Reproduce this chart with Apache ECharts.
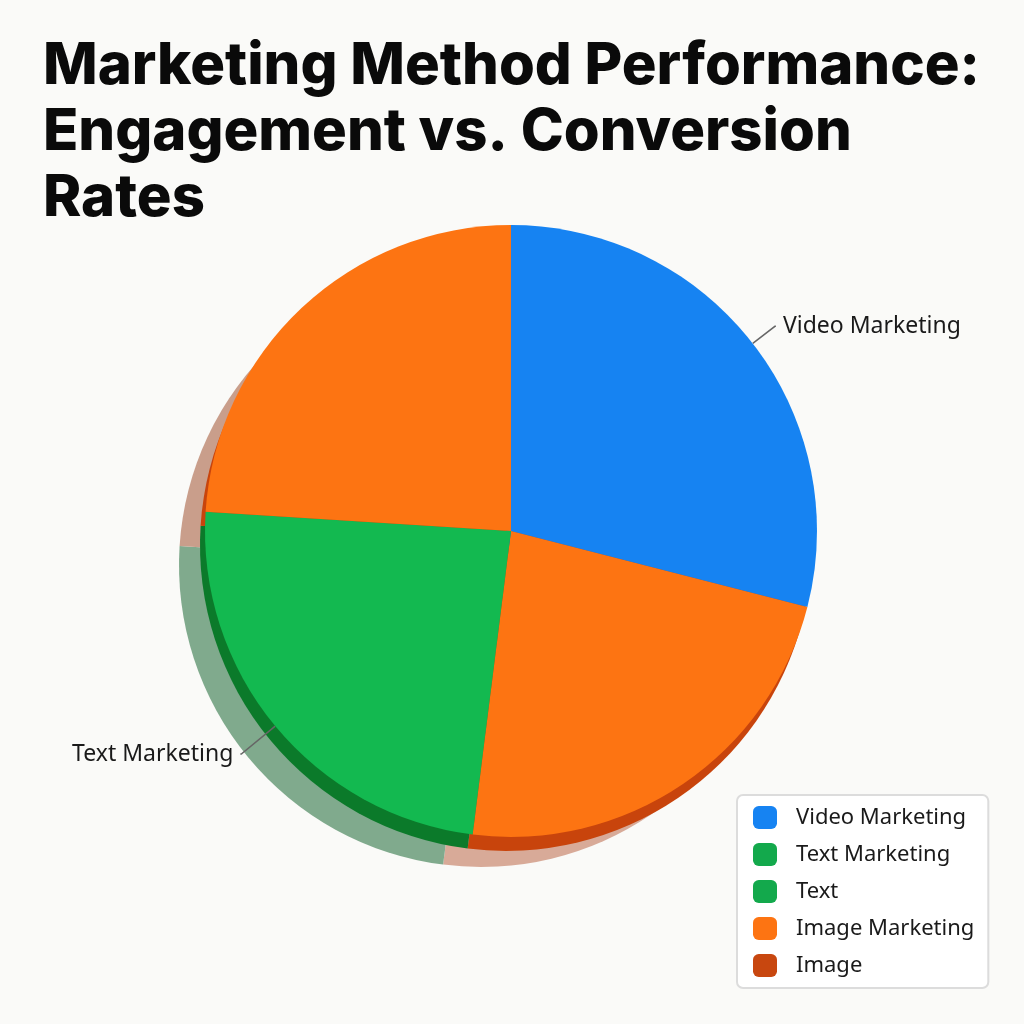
<!DOCTYPE html>
<html>
<head>
<meta charset="utf-8">
<script src="https://cdn.jsdelivr.net/npm/echarts@6/dist/echarts.min.js"></script>
<style>
  html, body { margin: 0; padding: 0; background: #fafaf8; }
  #chart { width: 1024px; height: 1024px; }
</style>
</head>
<body>
<div id="chart"></div>
<script>
// Slices clockwise from 12 o'clock
const categories = ['Video Marketing', 'Image Marketing', 'Text Marketing', 'Image Marketing'];
const values = [29, 23, 24, 24];
const depthNames = ['Video', 'Image', 'Text', 'Image'];
const shadowNames = ['Video shadow', 'Image shadow', 'Text shadow', 'Image shadow 2'];
const legendNames = ['Video Marketing', 'Text Marketing', 'Text', 'Image Marketing', 'Image'];
const labeledIdx = [0, 2];

const topColors = ['#1683f2', '#fd7412', '#13b950', '#fd7412'];
const depthColors = ['#0d5fc0', '#c8440c', '#0b7a2a', '#c8440c'];
const shadowColors = ['#a9b6c8', '#d8aa98', '#80aa8d', '#c99e8b'];
const legendColors = ['#1683f2', '#13a94c', '#13a94c', '#fd7412', '#c8470f'];
const lineLengths = [28, 0, 44, 0];

const chart = echarts.init(document.getElementById('chart'));
const C = [511, 531], R = 306;

chart.setOption({
  backgroundColor: '#fafaf8',
  animation: false,
  title: {
    text: 'Marketing Method Performance:\nEngagement vs. Conversion\nRates',
    left: 38, top: 29,
    textStyle: { fontFamily: 'Inter', fontWeight: 800, fontSize: 58, lineHeight: 66, color: '#0a0a0a' }
  },
  legend: {
    orient: 'vertical',
    left: 737, top: 795,
    padding: [11, 14, 11, 16],
    backgroundColor: '#ffffff',
    borderColor: '#dcdcdc', borderWidth: 2, borderRadius: 6,
    itemWidth: 24, itemHeight: 23, itemGap: 14,
    icon: 'roundRect',
    textStyle: { fontFamily: 'Noto Sans', fontSize: 22, color: '#1a1a1a', padding: [0, 0, 0, 14] },
    data: legendNames.map((n, i) => ({ name: n, itemStyle: { color: legendColors[i] } }))
  },
  series: [
    {
      type: 'pie', name: 'top', z: 5,
      center: C, radius: R, startAngle: 90,
      silent: true,
      label: { fontFamily: 'Noto Sans', fontSize: 23, color: '#1a1a1a', distanceToLabelLine: 7 },
      labelLine: { length: 30, length2: 1, lineStyle: { color: '#666', width: 1.5 } },
      data: categories.map((n, i) => ({
        name: n, value: values[i],
        itemStyle: { color: topColors[i] },
        label: { show: labeledIdx.includes(i) },
        labelLine: { show: labeledIdx.includes(i), length: lineLengths[i], length2: 1 }
      }))
    },
    {
      type: 'pie', name: 'depth', z: 4,
      center: [C[0] - 5, C[1] + 14], radius: R, startAngle: 90,
      silent: true, label: { show: false }, labelLine: { show: false },
      data: depthNames.map((n, i) => ({ name: n, value: values[i], itemStyle: { color: depthColors[i] } }))
    },
    {
      type: 'pie', name: 'shadow', z: 3,
      center: [C[0] - 30, C[1] + 34], radius: R - 4, startAngle: 90,
      silent: true, label: { show: false }, labelLine: { show: false },
      data: shadowNames.map((n, i) => ({ name: n, value: values[i], itemStyle: { color: shadowColors[i] } }))
    }
  ]
});
</script>
</body>
</html>
